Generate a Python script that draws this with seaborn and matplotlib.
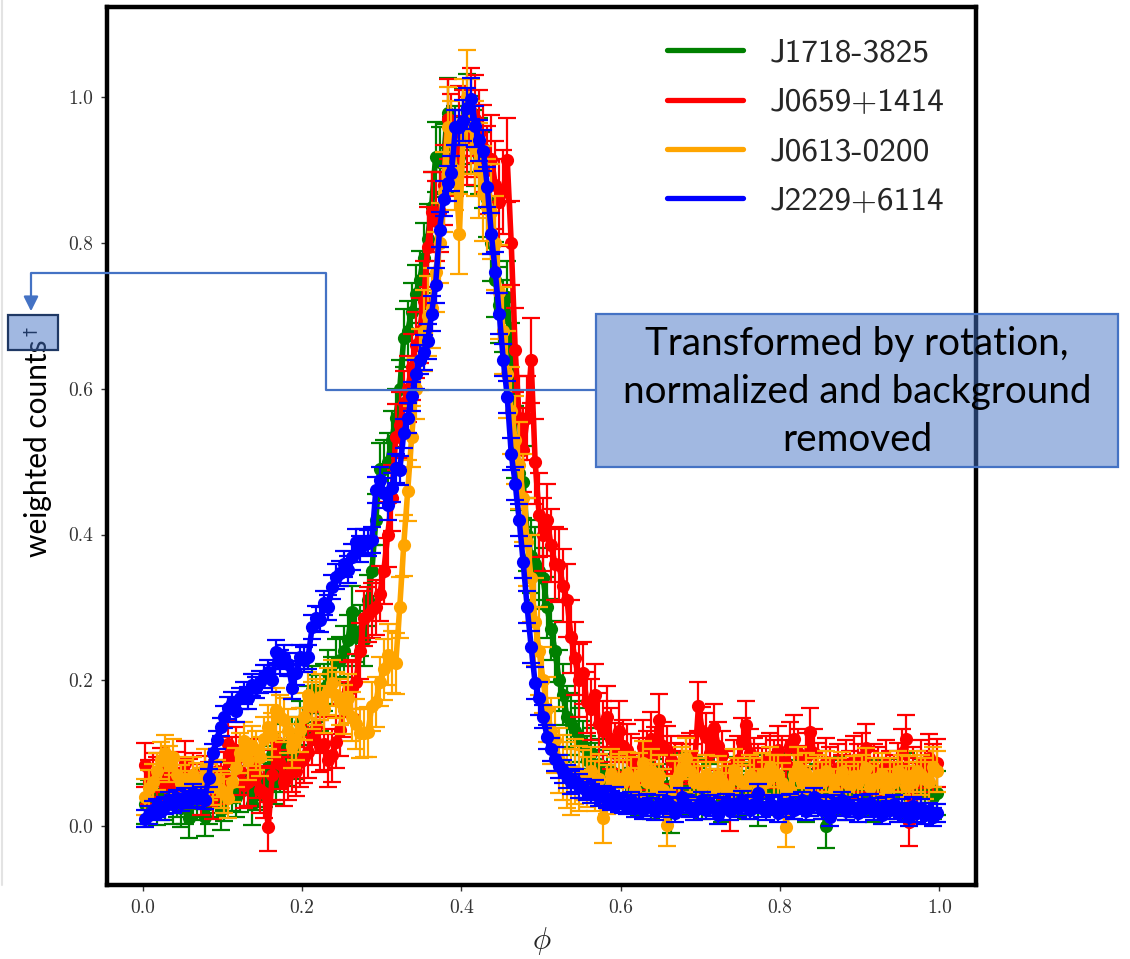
import numpy as np
import pandas as pd
import seaborn as sns
import matplotlib
matplotlib.use("Agg")
import matplotlib.pyplot as plt
from matplotlib.lines import Line2D
from matplotlib.patches import Rectangle, FancyArrowPatch

# ---------------------------------------------------------------- data
# phase-bin centres (200 bins over one rotation)
phase = np.arange(200) * 0.005 + 0.0025

names = ["J1718-3825", "J0659+1414", "J0613-0200", "J2229+6114"]
colors = ["green", "red", "orange", "blue"]

j1718 = [
    0.030, 0.036, 0.040, 0.028, 0.045, 0.035, 0.050, 0.030, 0.040, 0.025,
    0.030, 0.011, 0.040, 0.035, 0.050, 0.013, 0.030, 0.045, 0.040, 0.022,
    0.035, 0.060, 0.049, 0.040, 0.047, 0.070, 0.055, 0.030, 0.050, 0.063,
    0.056, 0.080, 0.097, 0.060, 0.077, 0.110, 0.085, 0.120, 0.095, 0.141,
    0.130, 0.160, 0.187, 0.175, 0.162, 0.190, 0.210, 0.200, 0.225, 0.228,
    0.240, 0.255, 0.294, 0.260, 0.268, 0.255, 0.310, 0.350, 0.420, 0.490,
    0.490, 0.500, 0.530, 0.560, 0.600, 0.670, 0.680, 0.705, 0.730, 0.749,
    0.780, 0.806, 0.850, 0.918, 0.911, 0.915, 0.978, 0.925, 0.940, 0.918,
    0.960, 0.980, 0.950, 0.930, 0.920, 0.900, 0.860, 0.800, 0.750, 0.715,
    0.700, 0.726, 0.640, 0.527, 0.484, 0.472, 0.400, 0.370, 0.360, 0.350,
    0.340, 0.300, 0.270, 0.240, 0.200, 0.180, 0.150, 0.140, 0.130, 0.120,
    0.110, 0.090, 0.100, 0.080, 0.085, 0.070, 0.065, 0.075, 0.060, 0.070,
    0.060, 0.072, 0.050, 0.065, 0.045, 0.070, 0.058, 0.040, 0.062, 0.075,
    0.048, 0.055, 0.020, 0.060, 0.052, 0.070, 0.045, 0.058, 0.066, 0.050,
    0.040, 0.062, 0.055, 0.048, 0.070, 0.035, 0.058, 0.050, 0.065, 0.045,
    0.055, 0.040, 0.062, 0.050, 0.030, 0.058, 0.068, 0.045, 0.052, 0.060,
    0.045, 0.055, 0.070, 0.040, 0.060, 0.050, 0.035, 0.062, 0.048, 0.055,
    0.040, 0.000, 0.050, 0.060, 0.045, 0.066, 0.038, 0.055, 0.048, 0.062,
    0.050, 0.045, 0.058, 0.035, 0.060, 0.052, 0.040, 0.062, 0.045, 0.055,
    0.048, 0.070, 0.040, 0.058, 0.050, 0.062, 0.045, 0.055, 0.040, 0.045,
]

j0659 = [
    0.084, 0.060, 0.070, 0.065, 0.077, 0.055, 0.068, 0.060, 0.072, 0.050,
    0.086, 0.062, 0.070, 0.055, 0.045, 0.066, 0.058, 0.040, 0.075, 0.060,
    0.070, 0.113, 0.090, 0.104, 0.075, 0.056, 0.060, 0.088, 0.070, 0.050,
    0.045, -0.001, 0.070, 0.116, 0.085, 0.061, 0.070, 0.081, 0.075, 0.088,
    0.095, 0.102, 0.120, 0.136, 0.110, 0.113, 0.090, 0.097, 0.115, 0.132,
    0.160, 0.187, 0.190, 0.198, 0.240, 0.285, 0.290, 0.296, 0.300, 0.319,
    0.350, 0.400, 0.450, 0.534, 0.550, 0.580, 0.600, 0.630, 0.660, 0.680,
    0.720, 0.795, 0.843, 0.830, 0.843, 0.880, 0.970, 0.950, 0.920, 0.960,
    0.950, 0.940, 0.980, 0.970, 0.950, 0.930, 0.900, 0.916, 0.880, 0.856,
    0.870, 0.914, 0.800, 0.653, 0.560, 0.516, 0.560, 0.639, 0.500, 0.427,
    0.400, 0.420, 0.385, 0.360, 0.358, 0.330, 0.310, 0.260, 0.230, 0.200,
    0.210, 0.170, 0.160, 0.180, 0.140, 0.130, 0.150, 0.120, 0.100, 0.130,
    0.110, 0.104, 0.090, 0.063, 0.085, 0.109, 0.095, 0.120, 0.100, 0.145,
    0.110, 0.104, 0.090, 0.081, 0.070, 0.079, 0.090, 0.095, 0.080, 0.164,
    0.130, 0.122, 0.100, 0.134, 0.110, 0.097, 0.070, 0.026, 0.085, 0.090,
    0.115, 0.139, 0.100, 0.088, 0.080, 0.074, 0.090, 0.095, 0.085, 0.104,
    0.090, 0.085, 0.110, 0.120, 0.100, 0.077, 0.095, 0.129, 0.100, 0.081,
    0.070, 0.088, 0.075, 0.059, 0.080, 0.065, 0.085, 0.070, 0.090, 0.080,
    0.095, 0.107, 0.070, 0.080, 0.075, 0.060, 0.085, 0.070, 0.065, 0.081,
    0.100, 0.120, 0.006, 0.075, 0.060, 0.085, 0.070, 0.093, 0.080, 0.086,
]

j0613 = [
    0.040, 0.052, 0.060, 0.075, 0.090, 0.100, 0.085, 0.095, 0.070, 0.059,
    0.065, 0.050, 0.070, 0.061, 0.055, 0.080, 0.060, 0.054, 0.065, 0.050,
    0.045, 0.038, 0.060, 0.080, 0.100, 0.116, 0.090, 0.110, 0.104, 0.095,
    0.120, 0.136, 0.125, 0.159, 0.150, 0.145, 0.130, 0.110, 0.120, 0.132,
    0.150, 0.180, 0.165, 0.170, 0.177, 0.160, 0.185, 0.196, 0.180, 0.170,
    0.160, 0.175, 0.150, 0.140, 0.127, 0.128, 0.129, 0.164, 0.170, 0.198,
    0.215, 0.235, 0.225, 0.223, 0.300, 0.385, 0.460, 0.534, 0.600, 0.640,
    0.680, 0.700, 0.711, 0.760, 0.800, 0.870, 0.959, 0.940, 0.900, 0.813,
    0.960, 1.000, 0.960, 0.930, 0.900, 0.868, 0.850, 0.843, 0.800, 0.733,
    0.680, 0.620, 0.570, 0.530, 0.495, 0.450, 0.390, 0.340, 0.280, 0.240,
    0.200, 0.160, 0.130, 0.118, 0.090, 0.080, 0.070, 0.060, 0.075, 0.065,
    0.070, 0.060, 0.075, 0.055, 0.065, 0.011, 0.050, 0.072, 0.060, 0.065,
    0.060, 0.072, 0.065, 0.050, 0.070, 0.086, 0.060, 0.075, 0.055, 0.068,
    0.050, 0.001, 0.040, 0.061, 0.070, 0.080, 0.093, 0.075, 0.060, 0.065,
    0.055, 0.070, 0.060, 0.050, 0.068, 0.060, 0.054, 0.045, 0.077, 0.065,
    0.060, 0.056, 0.070, 0.065, 0.050, 0.072, 0.060, 0.081, 0.070, 0.070,
    0.059, -0.001, 0.050, 0.070, 0.080, 0.060, 0.072, 0.055, 0.065, 0.070,
    0.060, 0.075, 0.065, 0.050, 0.065, 0.074, 0.060, 0.055, 0.068, 0.060,
    0.070, 0.079, 0.054, 0.065, 0.060, 0.072, 0.050, 0.065, 0.060, 0.075,
    0.070, 0.055, 0.068, 0.060, 0.075, 0.070, 0.065, 0.060, 0.081, 0.075,
]

j2229 = [
    0.010, 0.015, 0.022, 0.025, 0.020, 0.028, 0.035, 0.030, 0.038, 0.032,
    0.040, 0.036, 0.045, 0.038, 0.042, 0.035, 0.066, 0.100, 0.118, 0.136,
    0.150, 0.162, 0.169, 0.158, 0.175, 0.182, 0.176, 0.193, 0.190, 0.198,
    0.205, 0.212, 0.200, 0.239, 0.225, 0.232, 0.222, 0.190, 0.210, 0.232,
    0.228, 0.232, 0.273, 0.285, 0.283, 0.306, 0.300, 0.328, 0.342, 0.347,
    0.360, 0.352, 0.369, 0.390, 0.380, 0.390, 0.388, 0.392, 0.461, 0.475,
    0.457, 0.440, 0.464, 0.491, 0.488, 0.539, 0.560, 0.590, 0.620, 0.640,
    0.650, 0.665, 0.703, 0.742, 0.818, 0.861, 0.882, 0.896, 0.959, 0.959,
    0.968, 0.985, 0.998, 0.960, 0.941, 0.927, 0.877, 0.813, 0.760, 0.703,
    0.640, 0.589, 0.511, 0.470, 0.420, 0.362, 0.300, 0.246, 0.196, 0.175,
    0.150, 0.122, 0.105, 0.092, 0.082, 0.075, 0.068, 0.060, 0.062, 0.055,
    0.052, 0.048, 0.045, 0.050, 0.040, 0.042, 0.038, 0.035, 0.040, 0.032,
    0.030, 0.028, 0.035, 0.025, 0.030, 0.022, 0.032, 0.026, 0.020, 0.030,
    0.025, 0.034, 0.028, 0.018, 0.026, 0.040, 0.030, 0.024, 0.020, 0.028,
    0.035, 0.022, 0.030, 0.026, 0.015, 0.028, 0.032, 0.020, 0.030, 0.025,
    0.036, 0.028, 0.022, 0.030, 0.045, 0.025, 0.020, 0.030, 0.028, 0.018,
    0.030, 0.025, 0.032, 0.022, 0.028, 0.035, 0.020, 0.026, 0.040, 0.030,
    0.022, 0.028, 0.012, 0.030, 0.026, 0.035, 0.020, 0.028, 0.024, 0.018,
    0.030, 0.025, 0.032, 0.020, 0.026, 0.015, 0.028, 0.022, 0.030, 0.018,
    0.025, 0.020, 0.012, 0.028, 0.018, 0.025, 0.015, 0.020, 0.012, 0.018,
]

# one-sigma uncertainty, one value per 0.05-wide stretch of phase
j1718_err = [0.027, 0.027, 0.028, 0.030, 0.032, 0.035, 0.040, 0.048, 0.052, 0.050,
             0.042, 0.034, 0.030, 0.030, 0.030, 0.030, 0.030, 0.030, 0.030, 0.030]
j0659_err = [0.030, 0.030, 0.032, 0.034, 0.036, 0.038, 0.045, 0.055, 0.060, 0.058,
             0.050, 0.042, 0.036, 0.033, 0.033, 0.033, 0.033, 0.033, 0.033, 0.033]
j0613_err = [0.025, 0.025, 0.027, 0.030, 0.032, 0.034, 0.042, 0.055, 0.065, 0.060,
             0.045, 0.034, 0.030, 0.028, 0.028, 0.028, 0.028, 0.028, 0.028, 0.028]
j2229_err = [0.012, 0.012, 0.015, 0.016, 0.017, 0.018, 0.020, 0.024, 0.028, 0.022,
             0.016, 0.013, 0.012, 0.012, 0.012, 0.012, 0.012, 0.012, 0.012, 0.012]

profiles = [j1718, j0659, j0613, j2229]
profile_errs = [j1718_err, j0659_err, j0613_err, j2229_err]

xticks = [0.0, 0.2, 0.4, 0.6, 0.8, 1.0]
yticks = [0.0, 0.2, 0.4, 0.6, 0.8, 1.0]

note_text = "Transformed by rotation,\nnormalized and background\nremoved"

# ---------------------------------------------------------------- figure
sns.set_style("ticks")
plt.rcParams["font.family"] = ["DejaVu Sans"]
plt.rcParams["axes.formatter.use_mathtext"] = True
plt.rcParams["mathtext.fontset"] = "cm"

W, H = 1130, 959
fig = plt.figure(figsize=(W / 100, H / 100), dpi=100)
ax = fig.add_axes([107 / W, 1 - 885 / H, (976 - 107) / W, (885 - 7) / H])

frames = []
for name, vals, errs in zip(names, profiles, profile_errs):
    frames.append(pd.DataFrame({"phase": phase, "counts": vals,
                                "err": np.repeat(errs, 10), "pulsar": name}))
df = pd.concat(frames, ignore_index=True)

for name, col in zip(names, colors):
    sub = df[df["pulsar"] == name]
    ax.errorbar(sub["phase"], sub["counts"], yerr=sub["err"], fmt="none",
                ecolor=col, elinewidth=1.6, capsize=6.5, capthick=1.6)
    sns.lineplot(data=sub, x="phase", y="counts", color=col, ax=ax,
                 linewidth=4.0, marker="o", markersize=9.5,
                 markeredgewidth=0, legend=False)

ax.set_xlim(-0.045, 1.046)
ax.set_ylim(-0.081, 1.124)
ax.set_xticks(xticks)
ax.set_yticks(yticks)
ax.set_xticklabels([f"{t:.1f}" for t in xticks], family="cmr10", fontsize=14)
ax.set_yticklabels([f"{t:.1f}" for t in yticks], family="cmr10", fontsize=14)
ax.tick_params(axis="both", direction="out", length=4, width=1, pad=6,
               colors="#333333")
for s in ax.spines.values():
    s.set_linewidth(3.2)
    s.set_color("black")
ax.set_xlabel(r"$\phi$", fontsize=22, labelpad=6)
ax.set_ylabel("")

handles = [Line2D([0], [0], color=c, lw=3.8) for c in colors]
leg = ax.legend(handles, names, loc="upper right", frameon=False,
                bbox_to_anchor=(961 / W, 1 - 22 / H),
                bbox_transform=fig.transFigure,
                prop={"family": "cmss10", "size": 24},
                handlelength=2.28, handletextpad=0.78, labelspacing=0.6,
                borderpad=0)

# ---------------------------------------------------------------- overlay
tf = fig.transFigure


def fx(px):
    return px / W


def fy(py):
    return 1 - py / H


# faint page edge on the left
fig.add_artist(Line2D([fx(1.5), fx(1.5)], [fy(885), fy(0)], color="#e3e3e3",
                      lw=1.5, transform=tf))

# y axis caption
fig.text(fx(38), fy(448), "weighted counts", rotation=90, ha="center",
         va="center", fontsize=21.5, family="Lato", color="black")

# small marker box at the left
fig.add_artist(Rectangle((fx(8), fy(350)), fx(58) - fx(8), fy(315) - fy(350),
                         transform=tf, facecolor="#4472C4", alpha=0.5,
                         edgecolor="none", zorder=5))
fig.add_artist(Rectangle((fx(8), fy(350)), fx(58) - fx(8), fy(315) - fy(350),
                         transform=tf, facecolor="none", edgecolor="#1F3864",
                         lw=1.6, zorder=6))
fig.text(fx(31), fy(332), "\u2020", rotation=90, ha="center", va="center",
         fontsize=13, color="#1F3864", zorder=7)

# callout box
fig.add_artist(Rectangle((fx(596), fy(467)), fx(1118) - fx(596),
                         fy(314) - fy(467), transform=tf,
                         facecolor="#4472C4", alpha=0.5, edgecolor="none",
                         zorder=5))
fig.add_artist(Rectangle((fx(596), fy(467)), fx(1118) - fx(596),
                         fy(314) - fy(467), transform=tf,
                         facecolor="none", edgecolor="#4472C4", lw=1.6,
                         zorder=6))
fig.text(fx(857), fy(392), note_text, ha="center", va="center",
         fontsize=27.8, family="Lato", color="black", linespacing=1.42,
         zorder=7)

# elbow connector from the callout to the marker box
fig.add_artist(Line2D([fx(596), fx(326), fx(326), fx(31), fx(31)],
                      [fy(390), fy(390), fy(273), fy(273), fy(302)],
                      color="#4472C4", lw=1.6, transform=tf, zorder=6))
fig.add_artist(FancyArrowPatch((fx(31), fy(298)), (fx(31), fy(314)),
                               transform=tf, arrowstyle="-|>",
                               mutation_scale=22, color="#4472C4", lw=1.6,
                               zorder=6))

fig.savefig("out.png", dpi=100)
